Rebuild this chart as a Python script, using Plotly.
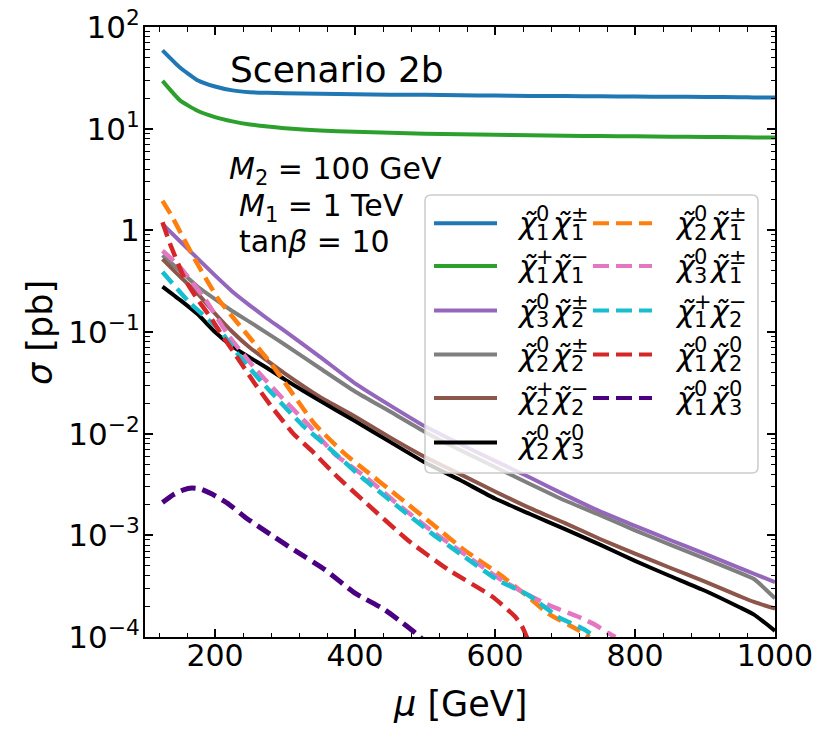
import plotly.graph_objects as go

# ---------------- data ----------------
mu_solid = [125, 150, 175, 200, 225, 250, 275, 300, 350, 400, 450, 500, 550,
            600, 650, 700, 750, 800, 850, 900, 950, 970, 1000]
xs_n1c1 = [59, 40, 30, 26, 23.8, 22.8, 22.5, 22.3, 22.0, 21.8, 21.6, 21.5, 21.3,
           21.2, 21.0, 20.9, 20.8, 20.7, 20.6, 20.5, 20.4, 20.3, 20.3]
xs_c1c1 = [29.5, 19, 15, 13, 11.8, 11, 10.5, 10.1, 9.6, 9.3, 9.1, 8.9, 8.8,
           8.7, 8.6, 8.5, 8.45, 8.4, 8.35, 8.3, 8.25, 8.2, 8.2]
xs_n3c2 = [1.15, 0.78, 0.53, 0.36, 0.249, 0.182, 0.135, 0.102, 0.057, 0.0313, 0.019, 0.0118, 0.0079,
           0.0054, 0.0037, 0.0025, 0.00172, 0.00124, 0.0009, 0.000656, 0.000476, 0.000419, 0.000346]
xs_n2c2 = [0.57, 0.40, 0.28, 0.21, 0.16, 0.125, 0.097, 0.075, 0.044, 0.026, 0.0165, 0.0104, 0.0069,
           0.0047, 0.0032, 0.0022, 0.00158, 0.00112, 0.00081, 0.00059, 0.000427, 0.000372, 0.00024]
xs_c2c2 = [0.52, 0.35, 0.24, 0.152, 0.10, 0.07, 0.052, 0.039, 0.023, 0.0148, 0.0092, 0.0059, 0.0040,
           0.0027, 0.00185, 0.00132, 0.00092, 0.00066, 0.00048, 0.00035, 0.000251, 0.000221, 0.00019]
xs_n2n3 = [0.28, 0.207, 0.15, 0.10, 0.072, 0.056, 0.044, 0.034, 0.021, 0.0133, 0.0083, 0.0052, 0.0035,
           0.0023, 0.00162, 0.00115, 0.00081, 0.00056, 0.000398, 0.000285, 0.000195, 0.000166, 0.000115]

mu_n2c1 = [125, 138, 171, 205, 243, 281, 343, 386, 414, 462, 510, 557, 605, 647, 676, 719, 735]
xs_n2c1 = [1.95, 1.39, 0.52, 0.21, 0.10, 0.048, 0.0123, 0.0063, 0.0044, 0.0024, 0.0013, 0.00071,
           0.00042, 0.00025, 0.00017, 0.000117, 0.0001]
mu_n3c1 = [125, 148, 186, 219, 257, 300, 333, 371, 414, 462, 510, 557, 605, 647, 681, 719, 743, 761, 772]
xs_n3c1 = [0.63, 0.45, 0.21, 0.093, 0.044, 0.021, 0.0123, 0.0063, 0.0038, 0.002, 0.0011, 0.00065,
           0.00038, 0.00026, 0.0002, 0.000158, 0.000132, 0.00011, 0.0001]
mu_c1c2 = [125, 162, 209, 229, 267, 324, 362, 410, 462, 510, 557, 605, 647, 690, 729, 742]
xs_c1c2 = [0.39, 0.2, 0.1, 0.065, 0.032, 0.0123, 0.0073, 0.0037, 0.0019, 0.00104, 0.00061,
           0.00036, 0.00026, 0.000158, 0.000117, 0.0001]
mu_n1n2 = [125, 136, 157, 175, 195, 207, 229, 257, 282, 312, 338, 376, 412, 476, 533, 596, 629, 639, 648]
xs_n1n2 = [1.2, 0.73, 0.33, 0.21, 0.135, 0.1, 0.06, 0.031, 0.018, 0.01, 0.0068, 0.0037, 0.0022,
           0.00089, 0.00046, 0.00025, 0.000158, 0.000126, 0.00009]
mu_n1n3 = [125, 140, 155, 167, 180, 195, 219, 243, 281, 314, 357, 400, 440, 462, 486, 500]
xs_n1n3 = [0.0021, 0.0025, 0.0028, 0.00292, 0.00285, 0.00256, 0.00204, 0.00151, 0.001, 0.00071,
           0.00046, 0.00027, 0.00019, 0.000148, 0.00011, 0.00009]

x_tickvals = [200, 400, 600, 800, 1000]
y_tickvals = [1e-4, 1e-3, 1e-2, 1e-1, 1, 10, 100]
y_ticktext = ["10<sup>−4</sup>", "10<sup>−3</sup>", "10<sup>−2</sup>", "10<sup>−1</sup>",
              "1", "10<sup>1</sup>", "10<sup>2</sup>"]

# label scripts: (sup1, sub1, sup2, sub2)
series = [
    ("n1c1", mu_solid, xs_n1c1, "#1f77b4", "solid", ("0", "1", "±", "1")),
    ("c1c1", mu_solid, xs_c1c1, "#2ca02c", "solid", ("+", "1", "−", "1")),
    ("n3c2", mu_solid, xs_n3c2, "#9467bd", "solid", ("0", "3", "±", "2")),
    ("n2c2", mu_solid, xs_n2c2, "#7f7f7f", "solid", ("0", "2", "±", "2")),
    ("c2c2", mu_solid, xs_c2c2, "#8c564b", "solid", ("+", "2", "−", "2")),
    ("n2n3", mu_solid, xs_n2n3, "#000000", "solid", ("0", "2", "0", "3")),
    ("n2c1", mu_n2c1, xs_n2c1, "#ff7f0e", "dash", ("0", "2", "±", "1")),
    ("n3c1", mu_n3c1, xs_n3c1, "#e377c2", "dash", ("0", "3", "±", "1")),
    ("c1c2", mu_c1c2, xs_c1c2, "#17becf", "dash", ("+", "1", "−", "2")),
    ("n1n2", mu_n1n2, xs_n1n2, "#d62728", "dash", ("0", "1", "0", "2")),
    ("n1n3", mu_n1n3, xs_n1n3, "#4b0082", "dash", ("0", "1", "0", "3")),
]

# ---------------- layout geometry (screen pixels) ----------------
W, H = 830, 742
OFF = 8                      # default page body margin
L, R, T, B = 145, 775, 27, 637
FONT = "DejaVu Sans"


def px(x):
    return (x - L) / (R - L)


def py(y):
    return (B - y) / (B - T)


fig = go.Figure()
for name, mu, xs, color, dash, sc in series:
    if dash == "dash":
        lw = 5 if name == "n1n3" else 4.5
        ls = "15px,7px"
    else:
        lw, ls = 4, "solid"
    fig.add_trace(go.Scatter(
        x=mu, y=xs, mode="lines", name=name, showlegend=False,
        line=dict(color=color, width=lw, dash=ls, shape="spline", smoothing=0.5)))

annotations = []
shapes = []


def text(x, y, s, size, xanchor="left", angle=0, yanchor="middle"):
    annotations.append(dict(
        x=px(x), y=py(y), xref="paper", yref="paper", text=s, showarrow=False,
        xanchor=xanchor, yanchor=yanchor, textangle=angle,
        font=dict(family=FONT, size=size, color="black"), borderpad=0))


# legend box (rounded)
bx0, bx1, by0, by1 = 425, 758, 195, 473
rr = 6
rx, ry = rr / (R - L), rr / (B - T)
X0, X1, Y0, Y1 = px(bx0), px(bx1), py(by1), py(by0)
path = (f"M {X0+rx},{Y0} L {X1-rx},{Y0} Q {X1},{Y0} {X1},{Y0+ry} "
        f"L {X1},{Y1-ry} Q {X1},{Y1} {X1-rx},{Y1} L {X0+rx},{Y1} Q {X0},{Y1} {X0},{Y1-ry} "
        f"L {X0},{Y0+ry} Q {X0},{Y0} {X0+rx},{Y0} Z")
shapes.append(dict(type="path", path=path, xref="paper", yref="paper", layer="above",
                   fillcolor="rgba(255,255,255,0.8)", line=dict(color="#cccccc", width=1.5)))

rows = [223.3, 266.0, 310.5, 354.5, 398.0, 442.5]
for i, (name, mu, xs, color, dash, sc) in enumerate(series):
    col = 0 if i < 6 else 1
    ry_ = rows[i] if col == 0 else rows[i - 6]
    hx0, hx1 = (434, 497) if col == 0 else (593, 652)
    shapes.append(dict(type="line", xref="paper", yref="paper", layer="above",
                       x0=px(hx0), x1=px(hx1), y0=py(ry_), y1=py(ry_),
                       line=dict(color=color, width=4,
                                 dash="16px,7px" if dash == "dash" else "solid")))
    x0 = 515.5 if col == 0 else 673.5
    for k, off in enumerate((0, 34.5)):
        text(x0 + off, ry_ + 0.5, "<i>χ̃</i>", 30)
        text(x0 + off + 19.5, ry_ - 9, sc[2 * k], 21)
        text(x0 + off + 19.5, ry_ + 9.5, sc[2 * k + 1], 21)

# figure texts
text(229, 69.5, "Scenario 2b", 36)
text(228, 171, "<i>M</i><sub>2</sub> = 100 GeV", 30)
text(238, 207, "<i>M</i><sub>1</sub> = 1 TeV", 30)
text(238, 242, "tan<i>β</i> = 10", 30)

# axis titles
text(460, 704, "<i>μ</i> [GeV]", 35, xanchor="center")
text(40, 333, "<i>σ</i> [pb]", 35, xanchor="center", angle=-90)

fig.update_layout(
    width=W, height=H,
    margin=dict(l=L - OFF, r=W - (R - OFF), t=T - OFF, b=H - (B - OFF), autoexpand=False),
    paper_bgcolor="white", plot_bgcolor="white",
    font=dict(family=FONT, size=30, color="black"),
    showlegend=False,
    annotations=annotations, shapes=shapes,
)
fig.update_xaxes(
    range=[100, 1000], tickvals=x_tickvals, ticks="inside", ticklen=8, tickwidth=1.5,
    tickcolor="black", showline=True, linewidth=2, linecolor="black", mirror="allticks",
    showgrid=False, zeroline=False, tickfont=dict(size=30), ticklabelstandoff=-9,
    ticklabeloverflow="allow",
    minor=dict(ticks="inside", ticklen=4.5, tickwidth=1.2, tickcolor="black",
               tick0=0, dtick=40, showgrid=False),
)
minor_y = [k * 10 ** e for e in range(-4, 2) for k in range(2, 10)]
fig.update_yaxes(
    type="log", range=[-4, 2], tickvals=y_tickvals, ticktext=y_ticktext,
    ticks="inside", ticklen=8, tickwidth=1.5, tickcolor="black",
    showline=True, linewidth=2, linecolor="black", mirror="allticks",
    showgrid=False, zeroline=False, tickfont=dict(size=31), ticklabelstandoff=-3,
    ticklabeloverflow="allow",
    minor=dict(ticks="inside", ticklen=4.5, tickwidth=1.2, tickcolor="black",
               tickvals=minor_y, showgrid=False),
)

fig.write_html("out.html")
